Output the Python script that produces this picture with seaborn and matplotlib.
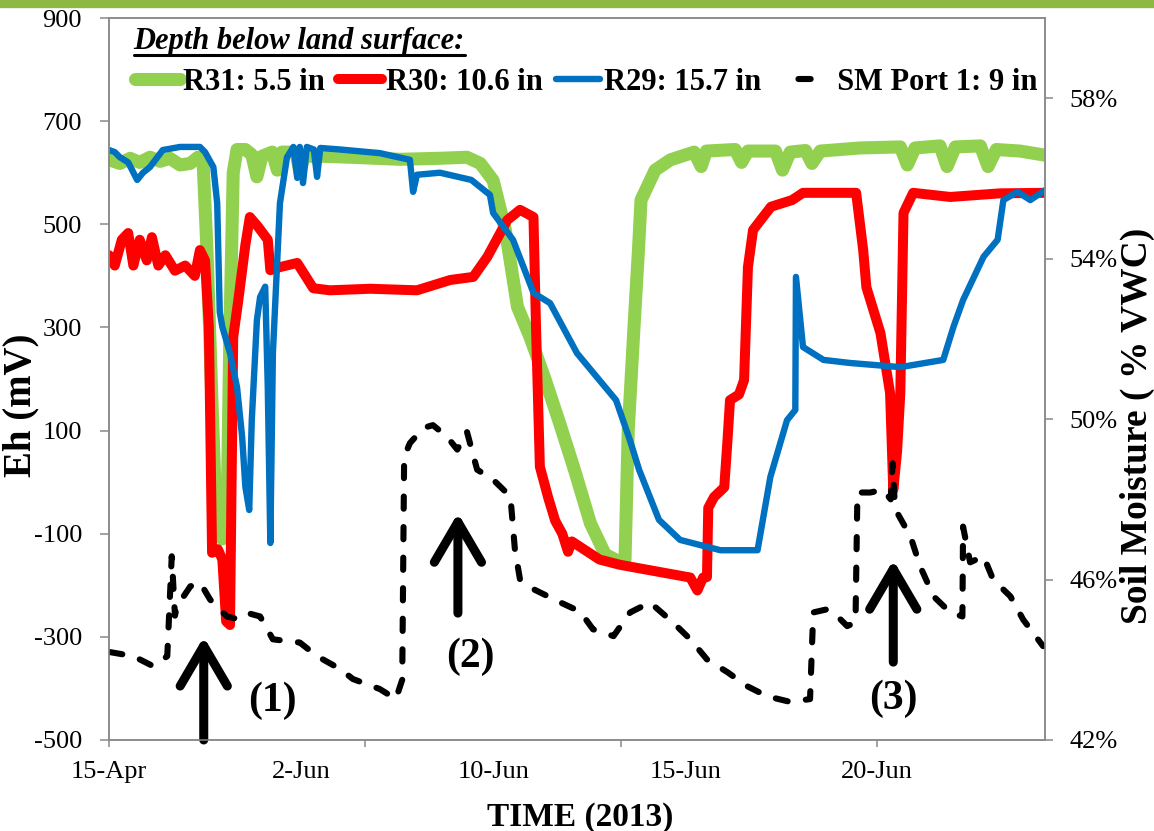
import matplotlib
matplotlib.use("Agg")
import matplotlib.pyplot as plt
import seaborn as sns
from matplotlib.lines import Line2D
from matplotlib.patches import Rectangle
from matplotlib.ticker import FuncFormatter

# ---------------- data (time index: 3 units between labelled dates) ----------------
date_labels = ["15-Apr", "2-Jun", "10-Jun", "15-Jun", "20-Jun"]
date_label_pos = [0, 3, 6, 9, 12]
tick_pos = [0, 4, 8, 12]

r31_t = [0.00, 0.17, 0.33, 0.48, 0.64, 0.80, 0.95, 1.11, 1.27, 1.39, 1.47, 1.53, 1.61, 1.67, 1.77,
         1.84, 1.89, 1.94, 2.00, 2.13, 2.23, 2.31, 2.39, 2.55, 2.63, 2.70, 2.92, 2.98, 3.06, 3.22,
         3.30, 3.77, 4.55, 5.17, 5.59, 5.80, 6.00, 6.19, 6.38, 6.58, 6.81, 7.05, 7.28, 7.52, 7.75,
         7.98, 8.06, 8.11, 8.20, 8.27, 8.31, 8.53, 8.77, 9.14, 9.25, 9.33, 9.78, 9.88, 9.98, 10.41,
         10.52, 10.64, 10.88, 10.98, 11.11, 11.73, 12.36, 12.47, 12.59, 12.98, 13.09, 13.22, 13.61,
         13.73, 13.86, 14.23, 14.62]
r31_eh = [625, 618, 628, 620, 630, 622, 628, 615, 618, 630, 622, 450, 150, -60, -110,
          -100, 300, 600, 645, 645, 635, 592, 632, 640, 605, 640, 640, 602, 635, 630,
          632, 630, 626, 628, 630, 618, 585, 490, 340, 280, 200, 110, 20, -80, -140,
          -155, -150, 100, 300, 450, 547, 605, 625, 640, 612, 642, 645, 620, 642, 642,
          605, 640, 643, 618, 642, 648, 650, 615, 648, 652, 612, 650, 652,
          612, 645, 642, 634]

r30_t = [0.00, 0.09, 0.20, 0.30, 0.38, 0.48, 0.59, 0.67, 0.77, 0.88, 1.03, 1.19, 1.34, 1.42, 1.50,
         1.56, 1.61, 1.70, 1.77, 1.83, 1.89, 1.94, 2.02, 2.13, 2.20, 2.33, 2.48, 2.52, 2.67, 2.94,
         3.19, 3.45, 4.08, 4.81, 5.33, 5.69, 5.91, 6.22, 6.42, 6.63, 6.67, 6.73, 6.86, 6.97, 7.08,
         7.17, 7.23, 7.66, 7.97, 8.59, 9.08, 9.19, 9.28, 9.34, 9.36, 9.45, 9.61, 9.66, 9.70, 9.84,
         9.92, 9.98, 10.06, 10.34, 10.67, 10.84, 11.27, 11.67, 11.78, 11.83, 12.05, 12.20, 12.25,
         12.31, 12.36, 12.41, 12.56, 13.14, 13.92, 14.62]
r30_eh = [440, 420, 470, 483, 420, 470, 430, 475, 420, 440, 410, 420, 400, 450, 430,
          300, -137, -130, -150, -270, -277, 281, 353, 460, 514, 495, 470, 411, 417, 425,
          376, 372, 375, 372, 392, 398, 437, 508, 528, 514, 300, 30, -30, -75, -100,
          -135, -115, -150, -160, -174, -185, -210, -185, -184, -50, -29, -10, 80, 159, 170,
          198, 417, 489, 534, 547, 561, 561, 561, 450, 378, 289, 173, -15,
          60, 173, 522, 561, 553, 560, 561]

r29_t = [0.00, 0.09, 0.17, 0.30, 0.44, 0.53, 0.64, 0.84, 1.11, 1.42, 1.50, 1.63, 1.69, 1.73, 1.77,
         1.89, 2.00, 2.08, 2.13, 2.19, 2.23, 2.31, 2.36, 2.44, 2.48, 2.52, 2.56, 2.67, 2.78, 2.88,
         2.94, 2.98, 3.03, 3.09, 3.20, 3.25, 3.30, 3.61, 4.23, 4.70, 4.75, 4.81, 5.17, 5.66, 5.95,
         6.00, 6.31, 6.63, 6.89, 7.31, 7.92, 8.14, 8.28, 8.59, 8.92, 9.55, 10.13, 10.33, 10.59,
         10.72, 10.73, 10.84, 11.16, 11.58, 12.36, 13.03, 13.19, 13.34, 13.66, 13.88, 13.97,
         14.19, 14.39, 14.62]
r29_eh = [644, 640, 630, 620, 586, 600, 611, 644, 650, 650, 640, 611, 541, 330, 301,
          250, 184, 87, -9, -54, 120, 314, 359, 379, 184, -118, 250, 541, 630, 650,
          590, 650, 580, 650, 645, 592, 648, 645, 638, 625, 563, 596, 600, 586, 557,
          522, 470, 367, 347, 250, 159, 80, 24, -73, -112, -132, -132, 10, 120,
          140, 398, 262, 237, 231, 223, 237, 301, 353, 437, 470, 547,
          563, 547, 566]

sm_t = [0.02, 0.38, 0.69, 0.91, 0.98, 1.03, 1.06, 1.27, 1.42, 1.58, 1.84, 2.05, 2.20, 2.36, 2.56,
        2.98, 3.25, 3.61, 3.81, 4.23, 4.48, 4.58, 4.61, 4.70, 4.91, 5.06, 5.28, 5.44, 5.59, 5.75,
        6.00, 6.27, 6.34, 6.42, 6.63, 7.05, 7.36, 7.56, 7.88, 8.14, 8.45, 8.81, 9.08, 9.34, 9.66,
        9.97, 10.28, 10.64, 10.95, 11.00, 11.22, 11.38, 11.53, 11.66, 11.69, 11.89, 12.09, 12.21,
        12.24, 12.27, 12.31, 12.52, 12.67, 12.88, 13.14, 13.33, 13.34, 13.45, 13.66, 13.81, 14.08,
        14.28, 14.59]
sm_pct = [44.19, 44.09, 43.84, 44.09, 46.58, 45.10, 45.33, 45.83, 45.93, 45.50, 45.08, 45.00, 45.15,
          45.08, 44.51, 44.43, 44.09, 43.77, 43.52, 43.27, 43.02, 43.50, 49.06, 49.40, 49.78, 49.85,
          49.56, 49.24, 49.69, 48.74, 48.49, 48.07, 46.75, 46.00, 45.76, 45.43, 45.20, 44.76, 44.59,
          45.18, 45.43, 44.93, 44.51, 44.01, 43.69, 43.34, 43.09, 42.95, 43.02, 45.18, 45.26, 45.08,
          44.84, 44.93, 48.17, 48.17, 48.24, 48.00, 48.90, 48.00, 47.67, 47.07, 46.33, 45.58, 45.18,
          45.08, 47.32, 46.43, 46.58, 46.00, 45.58, 45.00, 44.34]

series_names = ["R31: 5.5 in", "R30: 10.6 in", "R29: 15.7 in", "  SM Port 1: 9 in"]
c_green, c_red, c_blue, c_black = "#92D050", "#FF0000", "#0070C0", "#000000"
spine_c = "#898989"

# ---------------- style ----------------
sns.set_theme(style="white")
plt.rcParams["font.family"] = ["Liberation Serif", "DejaVu Serif"]
plt.rcParams["text.color"] = "black"
plt.rcParams["axes.labelcolor"] = "black"
plt.rcParams["axes.unicode_minus"] = False

fig = plt.figure(figsize=(11.54, 8.31), dpi=100)
ax = fig.add_axes([109 / 1154, 1 - 740 / 831, 936 / 1154, 722 / 831])
ax2 = ax.twinx()

kw = dict(estimator=None, sort=False, legend=False,
          solid_capstyle="round", solid_joinstyle="round")
sns.lineplot(x=r31_t, y=r31_eh, ax=ax, color=c_green, linewidth=9.4, **kw)
sns.lineplot(x=r30_t, y=r30_eh, ax=ax, color=c_red, linewidth=7.2, **kw)
sns.lineplot(x=r29_t, y=r29_eh, ax=ax, color=c_blue, linewidth=4.6, **kw)
sns.lineplot(x=sm_t, y=sm_pct, ax=ax2, color=c_black, linewidth=4.4,
             estimator=None, sort=False, legend=False,
             linestyle=(0, (2.0, 3.0)), dash_capstyle="round")

# axes limits / ticks
ax.set_xlim(0, 14.62)
ax.set_ylim(-500, 900)
ax.set_yticks(range(-500, 901, 200))
ax2.set_ylim(42, 60)
ax2.set_yticks([42, 46, 50, 54, 58])
ax2.yaxis.set_major_formatter(FuncFormatter(lambda v, p: f"{v:.0f}%"))

ax.xaxis.remove_overlapping_locs = False
ax.set_xticks(tick_pos)
ax.set_xticklabels([""] * len(tick_pos))
ax.set_xticks(date_label_pos, minor=True)
ax.set_xticklabels(date_labels, minor=True)

ax.tick_params(axis="x", which="major", bottom=True, length=5, width=1.1, color=spine_c)
ax.tick_params(axis="x", which="minor", bottom=True, length=0, pad=15, labelsize=19, labelcolor="black")
ax.tick_params(axis="y", left=True, length=6.5, width=1.1, color=spine_c, pad=13,
               labelsize=19, labelcolor="black")
ax2.tick_params(axis="y", right=True, length=6, width=1.1, color=spine_c, pad=11.5,
                labelsize=19, labelcolor="black")
ax.grid(False)
ax2.grid(False)
for a in (ax, ax2):
    for s in a.spines.values():
        s.set_color(spine_c)
        s.set_linewidth(1.1)
        s.set_visible(True)

ax.set_ylabel("Eh (mV)", fontsize=28, fontweight="bold", color="black")
ax.yaxis.set_label_coords(-0.074, 0.464)
ax2.set_ylabel("Soil Moisture ( % VWC)", fontsize=27, fontweight="bold", color="black")
ax2.yaxis.set_label_coords(1.080, 0.435)
ax.set_xlabel("TIME (2013)", fontsize=24, fontweight="bold", color="black")
ax.xaxis.set_label_coords(0.503, -0.086)

# legend
handles = [
    Line2D([], [], color=c_green, lw=9.4, solid_capstyle="round"),
    Line2D([], [], color=c_red, lw=7.2, solid_capstyle="round"),
    Line2D([], [], color=c_blue, lw=4.6, solid_capstyle="round"),
    Line2D([], [], color=c_black, lw=4.4, linestyle=(8, (2, 10)), dash_capstyle="round"),
]
leg = ax2.legend(handles, series_names, ncol=4, loc="center left",
                 bbox_to_anchor=(0.028, 0.911), frameon=False, borderpad=0, borderaxespad=0,
                 handlelength=1.45, handletextpad=0.12, columnspacing=0.42,
                 prop={"family": "Liberation Serif", "weight": "bold", "size": 22})
for txt in leg.get_texts():
    txt.set_color("black")
title = ax2.text(0.0262, 0.967, "Depth below land surface:", transform=ax2.transAxes,
                 fontsize=22, fontweight="bold", fontstyle="italic", va="center", ha="left",
                 color="black")

# annotations: arrows and numbers
for (tx, y0, y1) in [(1.48, -500, -300), (5.45, -254, -60), (12.25, -349, -151)]:
    ax.annotate("", xy=(tx, y1), xytext=(tx, y0),
                arrowprops=dict(arrowstyle="->,head_length=1.45,head_width=0.85", lw=6.5,
                                color="black", shrinkA=0, shrinkB=0, mutation_scale=20))
for (tx, ty, s) in [(2.55, -424, "(1)"), (5.64, -339, "(2)"), (12.25, -421, "(3)")]:
    ax.text(tx, ty, s, fontsize=30, fontweight="bold", ha="center", va="center", color="black")

# decorative top bar
fig.patches.append(Rectangle((0, 1 - 7 / 831), 1, 7 / 831, transform=fig.transFigure,
                             color="#8DB843", zorder=10))

# underline of legend title
fig.canvas.draw()
bb = title.get_window_extent(fig.canvas.get_renderer())
W, H = fig.get_size_inches() * fig.dpi
fig.add_artist(Line2D([bb.x0 / W, bb.x1 / W], [1 - 55 / 831, 1 - 55 / 831],
                      transform=fig.transFigure, color="black", lw=2.2))

fig.savefig("out.png", dpi=100)
